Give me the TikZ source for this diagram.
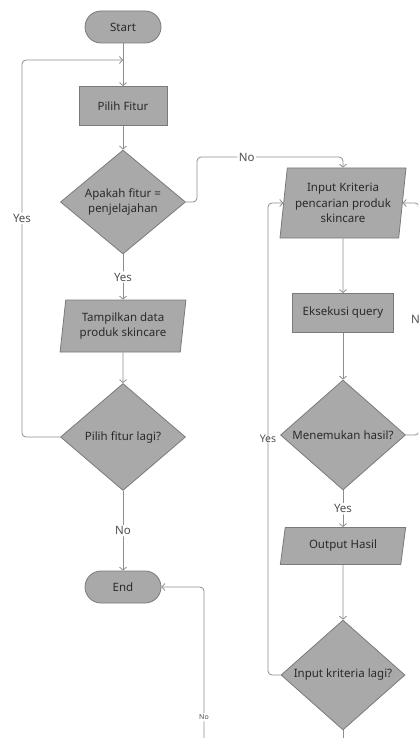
\documentclass[tikz,border=0pt]{standalone}
\usepackage{fontspec}
\setmainfont{Noto Sans}
\usetikzlibrary{shapes.geometric,arrows.meta}
\definecolor{fillg}{HTML}{A9A9A9}
\definecolor{edgeg}{HTML}{7A7A7A}
\definecolor{lineg}{HTML}{8E8E8E}
\definecolor{txt}{HTML}{2A2A2A}
\definecolor{labtxt}{HTML}{505050}
\begin{document}
\begin{tikzpicture}[x=1pt,y=-1pt,
  base/.style={draw=edgeg, fill=fillg, text=txt, font=\fontsize{11.5}{15.5}\selectfont, align=center, inner sep=0pt, line width=0.8pt},
  term/.style={base, rectangle, rounded corners=16pt, minimum width=76pt, minimum height=32pt},
  proc/.style={base, rectangle, minimum width=88pt, minimum height=39pt},
  dec/.style={base, diamond, minimum width=125pt, minimum height=105pt},
  io/.style={base, trapezium, trapezium left angle=81, trapezium right angle=99, trapezium stretches=true, minimum width=126pt},
  conn/.style={draw=lineg, line width=0.8pt, rounded corners=4pt, -{Straight Barb[length=3pt,width=7pt]}},
  plain/.style={draw=lineg, line width=0.8pt, rounded corners=4pt},
  lab/.style={fill=white, text=labtxt, font=\fontsize{11.5}{13}\selectfont, inner sep=1.5pt},
  smalllab/.style={fill=white, text=labtxt, font=\fontsize{7}{8}\selectfont, inner sep=1.5pt}
]
\useasboundingbox (0,0) rectangle (418,738);
\clip (0,0) rectangle (418,738);
\fill[white] (0,0) rectangle (418,738);

% left column
\node[term] (start) at (123,27) {Start};
\node[proc] (pilih) at (123,106) {Pilih Fitur};
\node[dec, minimum height=104pt] (apakah) at (123,202) {Apakah fitur =\\penjelajahan};
\node[io, minimum height=52pt] (tampil) at (123,326) {Tampilkan data\\produk skincare};
\node[dec, minimum height=107pt] (lagi) at (123,437) {Pilih fitur lagi?};
\node[term] (end) at (123,587) {End};

% right column
\node[io, minimum height=70pt] (input) at (343,203) {Input Kriteria\\pencarian produk\\skincare};
\node[proc, minimum width=101pt] (exec) at (343,313) {Eksekusi query};
\node[dec] (temu) at (343,435) {Menemukan hasil?};
\node[io, minimum height=37pt, trapezium left angle=76, trapezium right angle=104] (out) at (343,546) {Output Hasil};
\node[dec, minimum width=124pt, minimum height=106pt] (ilagi) at (343,675) {Input kriteria lagi?};

\coordinate (join) at (123,60);
\coordinate (offb) at (204,750);
\coordinate (offc) at (343,750);

% connectors
\draw[conn] (start) -- (pilih);
\draw[conn] (pilih) -- (apakah);
\draw[conn] (apakah) -- node[lab]{Yes} (tampil);
\draw[conn] (tampil) -- (lagi);
\draw[conn] (lagi) -- node[lab]{No} (end);
\draw[conn] (lagi.west) -- (22,437) -- node[lab,pos=0.58]{Yes} (22,60) -- (join);
\draw[conn] (apakah.east) -- (197,202) -- (197,157) -- node[lab,pos=0.34]{No} (343,157) -- (input.north);

\draw[conn] (input) -- (exec);
\draw[conn] (exec) -- (temu);
\draw[conn] (temu) -- node[lab]{Yes} (out);
\draw[conn] (out) -- (ilagi);
\draw[conn] (ilagi.west) -- (268,675) -- node[text=labtxt, font=\fontsize{10.5}{12}\selectfont, pos=0.5]{Yes} (268,203) -- (input.west);
\draw[conn] (temu.east) -- (419,435) -- node[lab]{No} (419,203) -- (input.east);
\draw[plain] (ilagi.south) -- (offc);
\draw[conn] (offb) -- node[smalllab,pos=0.2]{No} (204,587) -- (end.east);
\end{tikzpicture}
\end{document}
